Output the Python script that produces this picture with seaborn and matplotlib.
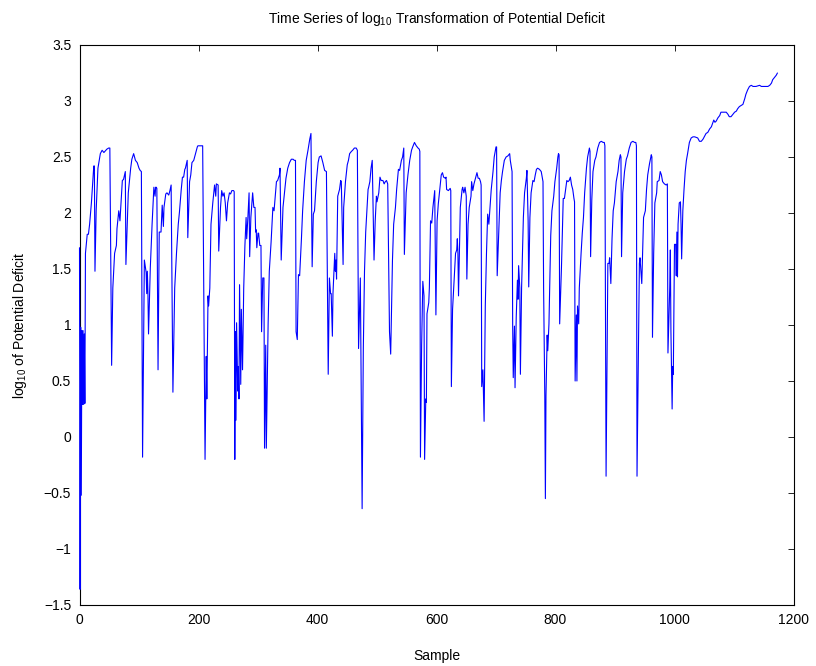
import numpy as np
import pandas as pd
import matplotlib
matplotlib.use("Agg")
import matplotlib.pyplot as plt
import seaborn as sns

# ---- data (sample index, log10 value) ----
x_a = [0, 1, 2, 3, 4, 5, 6, 7, 8, 9, 10, 13, 15, 17, 20, 24, 25, 26, 28, 31, 35,
       38, 41, 46, 49, 51, 54, 56, 59, 62, 63, 66, 68, 69, 72, 74, 77, 78, 82, 86, 88,
       91, 94, 97, 100, 102, 104, 106, 109, 111, 112, 113, 114, 115, 116, 119, 122, 125, 127, 128, 129,
       130, 132, 134, 137, 139, 141, 142, 145, 147, 150, 152, 154, 157, 160, 163, 166, 168, 171, 173, 175,
       177, 178, 181, 182, 185, 187, 189, 192, 195, 198]
y_a = [1.69, -1.36, 0.98, -0.52, 0.95, 0.29, 0.95, 0.29, 0.92, 0.30, 1.64, 1.81, 1.81, 1.90, 2.09, 2.42, 2.42, 1.48, 2.02, 2.40, 2.53,
       2.56, 2.54, 2.57, 2.58, 2.58, 0.64, 1.33, 1.64, 1.71, 1.86, 2.02, 1.93, 2.02, 2.29, 2.30, 2.37, 1.54, 2.18, 2.40, 2.48,
       2.53, 2.47, 2.45, 2.40, 2.38, 2.37, -0.18, 1.58, 1.51, 1.47, 1.28, 1.48, 1.29, 0.92, 1.51, 1.90, 2.23, 2.15, 2.23, 2.23,
       2.22, 0.60, 1.83, 1.83, 2.07, 1.88, 2.05, 2.17, 2.18, 2.16, 2.20, 2.25, 0.40, 1.33, 1.64, 1.90, 2.01, 2.21, 2.32, 2.32,
       2.39, 2.40, 2.47, 1.78, 2.28, 2.34, 2.45, 2.47, 2.53, 2.59]

x_b = [199, 202, 207, 211, 213, 214, 216, 217, 219, 221, 224, 227, 229, 230, 233, 234, 237, 239, 241, 243,
       245, 247, 249, 252, 254, 256, 259, 260, 261, 262, 263, 264, 266, 267, 268, 269, 271, 272, 274, 276,
       278, 280, 281, 283, 285, 286, 288, 291, 293, 295, 296, 297, 298, 300, 301, 303, 305, 306, 308, 310,
       311, 313, 314, 317, 319, 322, 325, 327, 329, 331, 333, 336, 337, 339, 342, 345, 347, 350, 353, 356,
       359, 361, 363, 364, 366, 368, 370, 373, 375, 378, 381, 384, 387, 389, 391, 393, 395]
y_b = [2.60, 2.60, 2.60, -0.20, 0.72, 0.34, 1.26, 1.17, 1.33, 1.90, 2.09, 2.25, 2.15, 2.26, 2.25, 1.66, 2.05, 2.20, 2.15, 2.18,
       2.09, 1.93, 2.09, 2.18, 2.17, 2.20, 2.20, 2.19, -0.20, 0.94, 0.15, 1.02, 0.41, 0.63, 0.34, 1.36, 0.47, 1.14, 0.60, 1.33,
       1.71, 1.96, 1.77, 1.96, 2.18, 1.61, 1.96, 2.18, 2.05, 2.05, 1.83, 1.85, 1.69, 1.82, 1.82, 1.71, 1.71, 0.94, 1.42, 1.42,
       -0.10, 0.82, -0.10, 1.01, 1.48, 1.74, 2.05, 2.02, 2.15, 2.28, 2.29, 2.34, 2.40, 1.58, 2.05, 2.21, 2.31, 2.40, 2.45, 2.48,
       2.48, 2.47, 2.47, 0.94, 0.87, 1.45, 1.44, 1.77, 2.02, 2.28, 2.47, 2.56, 2.66, 2.71, 1.52, 1.99, 2.02]

x_c = [398, 401, 403, 406, 409, 412, 415, 418, 420, 422, 423, 425, 426, 428, 429, 430, 431, 432, 434, 437,
       439, 440, 443, 444, 447, 450, 452, 454, 457, 459, 462, 465, 467, 469, 472, 475, 477, 479, 481, 485,
       486, 488, 490, 492, 495, 497, 499, 500, 503, 505, 507, 510, 512, 514, 516, 518, 521, 523, 526, 528,
       531, 533, 536, 538, 541, 543, 545, 546, 549, 552, 555, 558, 560, 563, 566, 569, 571, 572, 573, 575,
       577, 579, 580, 582, 583, 584, 587, 588, 590, 592, 594, 596, 597]
y_c = [2.28, 2.45, 2.50, 2.51, 2.45, 2.38, 2.37, 0.56, 1.42, 1.28, 1.28, 0.90, 1.28, 1.51, 1.64, 1.48, 1.58, 1.41, 2.15, 2.21,
       2.29, 2.28, 1.54, 2.05, 2.28, 2.43, 2.47, 2.53, 2.55, 2.56, 2.58, 2.58, 2.56, 0.79, 1.42, -0.64, 0.79, 1.48, 1.83, 2.21,
       2.23, 2.28, 2.40, 2.47, 1.58, 1.93, 2.15, 2.10, 2.18, 2.32, 2.29, 2.29, 2.26, 2.28, 2.29, 2.26, 0.94, 0.74, 1.58, 1.90,
       2.05, 2.21, 2.39, 2.38, 2.47, 2.50, 2.58, 1.63, 2.18, 2.34, 2.47, 2.56, 2.59, 2.63, 2.60, 2.58, 2.57, 2.55, -0.18, 0.82,
       1.39, 1.26, -0.20, 0.34, 0.31, 1.10, 1.20, 1.33, 1.93, 1.91, 2.05, 2.15, 2.20]

x_d = [599, 601, 603, 606, 608, 610, 612, 615, 616, 617, 620, 623, 624, 625, 627, 630, 632, 634, 635, 636,
       637, 639, 640, 643, 644, 646, 648, 650, 651, 653, 655, 658, 659, 661, 663, 666, 668, 670, 672, 674,
       675, 676, 678, 680, 682, 684, 686, 688, 690, 692, 695, 697, 700, 701, 702, 705, 707, 709, 711, 714,
       717, 720, 723, 724, 727, 728, 729, 731, 732, 734, 736, 737, 738, 740, 741, 743, 746, 748, 751, 752,
       754, 755, 757, 759, 761, 762, 764, 766, 768, 770, 773, 776, 779, 780, 782, 783, 784, 786, 787, 789,
       792, 794, 797, 799]
y_d = [1.09, 1.93, 2.08, 2.24, 2.34, 2.36, 2.32, 2.31, 2.32, 2.21, 2.20, 2.22, 2.20, 0.45, 1.14, 1.45, 1.64, 1.67, 1.77, 1.64,
       1.26, 1.80, 2.05, 2.21, 2.23, 2.18, 2.23, 2.15, 1.41, 1.90, 2.05, 2.15, 2.28, 2.20, 2.26, 2.32, 2.36, 2.31, 2.31, 2.28,
       2.25, 0.45, 0.60, 0.14, 1.17, 1.64, 1.99, 1.90, 2.05, 2.21, 2.37, 2.50, 2.59, 2.59, 1.44, 1.90, 2.18, 2.29, 2.37, 2.47,
       2.50, 2.51, 2.53, 2.47, 2.37, 1.01, 0.53, 0.99, 0.44, 1.07, 1.40, 1.23, 1.53, 1.33, 0.56, 1.33, 1.96, 2.18, 2.31, 2.38,
       1.93, 1.34, 1.96, 2.18, 2.25, 2.29, 2.28, 2.34, 2.39, 2.40, 2.39, 2.37, 2.28, 1.33, 0.37, -0.55, 0.37, 0.91, 0.77, 1.01,
       1.80, 2.02, 2.15, 2.28]

x_e = [802, 804, 805, 806, 807, 810, 812, 813, 815, 817, 819, 821, 823, 825, 827, 829, 831, 832, 833, 835,
       836, 837, 839, 840, 843, 845, 847, 849, 852, 854, 857, 858, 859, 861, 863, 866, 868, 871, 874, 877,
       880, 882, 883, 885, 888, 890, 891, 893, 895, 897, 899, 902, 905, 907, 909, 910, 911, 913, 916, 919,
       921, 924, 927, 930, 933, 935, 936, 937, 941, 942, 943, 945, 947, 948, 951, 953, 955, 958, 961, 962,
       963, 965, 967, 970, 971, 974, 976, 978, 980, 983, 986, 988, 989, 992, 993, 994, 996, 997, 998]
y_e = [2.40, 2.50, 2.53, 2.52, 1.01, 1.51, 1.90, 2.13, 2.13, 2.21, 2.29, 2.28, 2.29, 2.32, 2.25, 2.21, 2.13, 2.10, 0.50, 1.09,
       0.50, 1.17, 1.01, 1.33, 1.64, 1.82, 1.96, 2.18, 2.40, 2.50, 2.58, 2.55, 1.61, 2.12, 2.37, 2.47, 2.50, 2.58, 2.63, 2.64,
       2.63, 2.63, 2.60, -0.35, 1.55, 1.55, 1.60, 1.37, 1.77, 2.02, 2.09, 2.28, 2.37, 2.47, 2.52, 2.50, 1.61, 2.18, 2.37, 2.48,
       2.51, 2.58, 2.63, 2.64, 2.63, 2.63, 2.60, -0.35, 1.55, 1.60, 1.52, 1.37, 1.77, 1.96, 2.02, 2.21, 2.34, 2.44, 2.52, 2.50,
       0.89, 1.64, 2.09, 2.18, 2.28, 2.29, 2.37, 2.34, 2.28, 2.26, 2.25, 2.26, 0.75, 1.33, 1.67, 0.94, 0.25, 0.63, 0.56]

x_f = [1000, 1002, 1003, 1004, 1005, 1006, 1008, 1010, 1011, 1012, 1014, 1016, 1018, 1020, 1022, 1025, 1028, 1031, 1034, 1039,
       1042, 1045, 1048, 1050, 1053, 1056, 1059, 1062, 1064, 1066, 1068, 1070, 1073, 1076, 1078, 1081, 1084, 1087, 1090, 1092,
       1095, 1098, 1101, 1104, 1106, 1109, 1112, 1115, 1118, 1120, 1123, 1126, 1129, 1132, 1137, 1143, 1146, 1151, 1157, 1160,
       1163, 1165, 1168, 1171, 1173]
y_f = [1.72, 1.72, 1.44, 1.83, 1.43, 1.90, 2.09, 2.10, 1.90, 1.59, 2.02, 2.21, 2.37, 2.47, 2.53, 2.63, 2.67, 2.68, 2.68, 2.67,
       2.64, 2.64, 2.66, 2.68, 2.71, 2.72, 2.75, 2.77, 2.80, 2.83, 2.81, 2.82, 2.85, 2.87, 2.90, 2.90, 2.90, 2.90, 2.88, 2.86,
       2.86, 2.88, 2.90, 2.91, 2.93, 2.95, 2.96, 2.97, 3.02, 3.06, 3.10, 3.13, 3.14, 3.13, 3.13, 3.14, 3.13, 3.13, 3.13, 3.14,
       3.16, 3.19, 3.21, 3.23, 3.25]

x_ticks = [0, 200, 400, 600, 800, 1000, 1200]
y_ticks = [-1.5, -1, -0.5, 0, 0.5, 1, 1.5, 2, 2.5, 3, 3.5]
y_tick_labels = ["\u22121.5", "\u22121", "\u22120.5", "0", "0.5", "1", "1.5", "2", "2.5", "3", "3.5"]

title_text = "Time Series of log$_{10}$ Transformation of Potential Deficit"
x_label = "Sample"
y_label = "log$_{10}$ of Potential Deficit"

xs, ys = [], []
for xx, yy in [(x_a, y_a), (x_b, y_b), (x_c, y_c), (x_d, y_d), (x_e, y_e), (x_f, y_f)]:
    n = min(len(xx), len(yy))
    xs.extend(xx[:n])
    ys.extend(yy[:n])
df = pd.DataFrame({"Sample": xs, "Value": ys})

sns.set_theme(style="white")
plt.rcParams["font.family"] = ["Liberation Sans", "DejaVu Sans"]
plt.rcParams["mathtext.default"] = "regular"

fig = plt.figure(figsize=(8.16, 6.66), dpi=100)
ax = fig.add_axes([79.5 / 816, 1 - 605 / 666, (793.5 - 79.5) / 816, (605 - 45) / 666])

sns.lineplot(data=df, x="Sample", y="Value", ax=ax, color="#0000ff",
             linewidth=0.8, estimator=None, sort=False, zorder=3)
for ln in ax.lines:
    ln.set_clip_on(False)

ax.set_xlim(0, 1200)
ax.set_ylim(-1.5, 3.5)
ax.set_xticks(x_ticks)
ax.set_xticklabels([str(t) for t in x_ticks])
ax.set_yticks(y_ticks)
ax.set_yticklabels(y_tick_labels)
ax.tick_params(direction="in", top=True, right=True, length=4.5, width=0.6,
               labelsize=10, colors="black", pad=6)
for s in ax.spines.values():
    s.set_color("black")
    s.set_linewidth(0.8)
    s.set_visible(True)
    s.set_zorder(2.5)

ax.set_xlabel(x_label, fontsize=10, color="black", labelpad=15.5)
ax.set_ylabel(y_label, fontsize=10, color="black", labelpad=11)
ax.set_title(title_text, fontsize=10, color="black", pad=15.5)
ax.grid(False)

fig.savefig("out.png", dpi=100, facecolor="white")
